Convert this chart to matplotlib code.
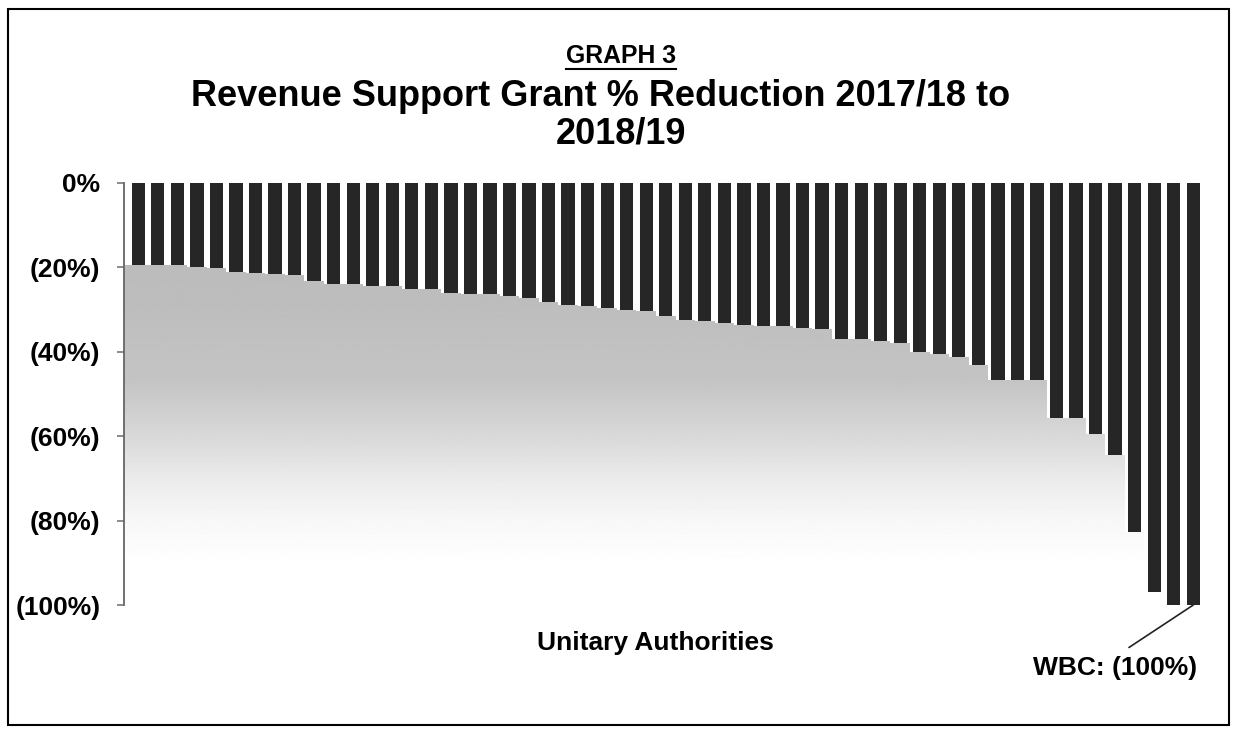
import numpy as np
import matplotlib.pyplot as plt
from matplotlib.lines import Line2D
from matplotlib.patches import Rectangle, Polygon

plt.rcParams['font.family'] = ['Liberation Sans', 'DejaVu Sans']

# % reduction in Revenue Support Grant per unitary authority, sorted
reduction_pct = [19.4, 19.4, 19.5, 19.8, 20.2, 21.2, 21.3, 21.5, 21.9, 23.2,
                 24.0, 24.0, 24.3, 24.4, 25.0, 25.0, 26.1, 26.4, 26.4, 26.8,
                 27.2, 28.3, 29.0, 29.2, 29.7, 30.1, 30.4, 31.4, 32.5, 32.7,
                 33.2, 33.6, 33.9, 34.0, 34.3, 34.6, 37.0, 37.0, 37.5, 37.9,
                 40.0, 40.5, 41.3, 43.2, 46.6, 46.6, 46.8, 55.6, 55.6, 59.5,
                 64.4, 82.8, 96.9, 100.0, 100.0]
yticks = [0, -20, -40, -60, -80, -100]
highlight_name = "WBC"

x = np.arange(len(reduction_pct))
y = -np.array(reduction_pct)
x_lo, x_hi = -0.73, len(x) - 0.4

fig = plt.figure(figsize=(12.38, 7.30), dpi=100)
ax = fig.add_axes([124 / 1238, 1 - 605 / 730, (1205 - 124) / 1238, (605 - 183) / 730])

# grey-to-white gradient that sits under the bar ends
frac = np.linspace(0, 1, 300)
shade = np.interp(frac, [0.0, 0.1, 0.2, 0.3, 0.415, 0.53, 0.72, 1.0],
                  [1.0, 1.0, 0.97, 0.92, 0.84, 0.77, 0.74, 0.73])
grad = shade[::-1].reshape(-1, 1)
im = ax.imshow(grad, cmap='gray', vmin=0, vmax=1, aspect='auto',
               extent=(x_lo, x_hi, -100, 0), zorder=0, interpolation='bilinear')

# stepped outline following the bar bottoms
edges = np.concatenate([[x_lo], x[:-1] + 0.5, [x_hi]])
step_x = np.repeat(edges, 2)[1:-1]
step_y = np.repeat(y, 2)
outline = np.column_stack([np.concatenate([[x_lo], step_x, [x_hi]]),
                           np.concatenate([[-100], step_y, [-100]])])
clip = Polygon(outline, closed=True, transform=ax.transData, facecolor='none', edgecolor='none')
ax.add_patch(clip)
im.set_clip_path(clip)

ax.bar(x, y, width=0.68, color='#262626', zorder=2)

ax.set_xlim(x_lo, x_hi)
ax.set_ylim(-100, 0)
ax.set_yticks(yticks)
ax.set_yticklabels(['0%' if v == 0 else '(%d%%)' % abs(v) for v in yticks],
                   fontsize=19, fontweight='bold')
ax.tick_params(axis='y', direction='out', length=5, width=1.2, color='#777777', pad=12)
ax.set_xticks([])
for s in ['top', 'right', 'bottom']:
    ax.spines[s].set_visible(False)
ax.spines['left'].set_color('#666666')
ax.spines['left'].set_linewidth(1.3)

ax.set_xlabel('Unitary Authorities', fontsize=19, fontweight='bold')
ax.xaxis.set_label_coords(0.492, -0.062)
ax.xaxis.label.set_va('top')

# label for the last bar
ax.annotate('%s: (%d%%)' % (highlight_name, reduction_pct[-1]),
            xy=(x[-1], y[-1]), xytext=(-56, -37), textcoords='offset points',
            ha='center', va='top', fontsize=19, fontweight='bold',
            arrowprops=dict(arrowstyle='-', color='#222222', lw=1.2,
                            relpos=(0.5, 1.0), shrinkA=8, shrinkB=0))

# titles
t = fig.text(621 / 1238, 1 - 56 / 730, 'GRAPH 3', ha='center', va='center',
             fontsize=17.8, fontweight='bold')
fig.text(601 / 1238, 1 - 97 / 730, 'Revenue Support Grant % Reduction 2017/18 to',
         ha='center', va='center', fontsize=26, fontweight='bold')
fig.text(621 / 1238, 1 - 134 / 730, '2018/19', ha='center', va='center',
         fontsize=26, fontweight='bold')

# underline GRAPH 3
fig.canvas.draw()
bb = t.get_window_extent()
fig.add_artist(Line2D([bb.x0 / 1238, bb.x1 / 1238], [(bb.y0 - 1) / 730] * 2,
                      color='black', lw=1.5, transform=fig.transFigure))

# outer frame round the chart
fig.add_artist(Rectangle((8 / 1238, 5 / 730), (1229 - 8) / 1238, (723 - 7) / 730,
                         transform=fig.transFigure, fill=False, lw=1.5, edgecolor='black'))

fig.savefig('out.png', dpi=100)
